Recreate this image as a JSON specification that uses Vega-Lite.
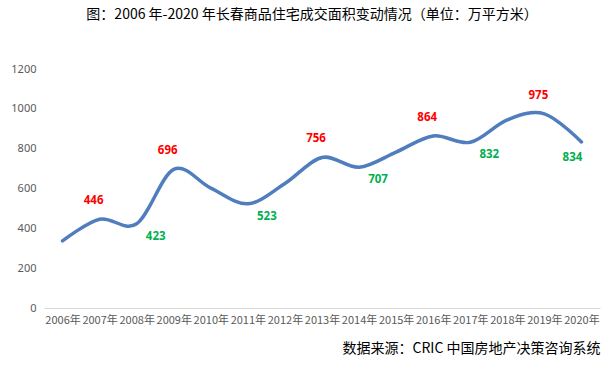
{
  "$schema": "https://vega.github.io/schema/vega-lite/v6.json",
  "width": 556,
  "height": 239,
  "autosize": {"type": "none"},
  "padding": {"left": 44, "top": 69, "right": 12, "bottom": 58},
  "background": "white",
  "config": {"view": {"stroke": null}, "font": "Noto Sans CJK SC"},
  "title": {
    "text": "图：2006 年-2020 年长春商品住宅成交面积变动情况（单位：万平方米）",
    "anchor": "middle",
    "frame": "group",
    "dx": -10,
    "offset": 41,
    "fontSize": 14,
    "fontWeight": "normal",
    "color": "#000000",
    "font": "Noto Sans CJK SC"
  },
  "data": {
    "values": [
      {"year": "2006年", "value": 337, "type": "none"},
      {"year": "2007年", "value": 446, "type": "peak"},
      {"year": "2008年", "value": 423, "type": "trough"},
      {"year": "2009年", "value": 696, "type": "peak"},
      {"year": "2010年", "value": 602, "type": "none"},
      {"year": "2011年", "value": 523, "type": "trough"},
      {"year": "2012年", "value": 625, "type": "none"},
      {"year": "2013年", "value": 756, "type": "peak"},
      {"year": "2014年", "value": 707, "type": "trough"},
      {"year": "2015年", "value": 783, "type": "none"},
      {"year": "2016年", "value": 864, "type": "peak"},
      {"year": "2017年", "value": 832, "type": "trough"},
      {"year": "2018年", "value": 945, "type": "none"},
      {"year": "2019年", "value": 975, "type": "peak"},
      {"year": "2020年", "value": 834, "type": "end"}
    ]
  },
  "encoding": {
    "x": {
      "field": "year",
      "type": "ordinal",
      "sort": null,
      "axis": {
        "labelAngle": 0,
        "labelColor": "#595959",
        "labelFontSize": 11,
        "labelPadding": 6,
        "labelFont": "Noto Sans CJK SC",
        "ticks": false,
        "domainColor": "#d9d9d9",
        "domainWidth": 1,
        "title": "数据来源：CRIC 中国房地产决策咨询系统",
        "titleAnchor": "end",
        "titleAlign": "right",
        "titleFontSize": 14,
        "titleFontWeight": "normal",
        "titleColor": "#000000",
        "titlePadding": 16,
        "titleFont": "Noto Sans CJK SC"
      }
    },
    "y": {
      "field": "value",
      "type": "quantitative",
      "scale": {"domain": [0, 1200]},
      "axis": {
        "values": [0, 200, 400, 600, 800, 1000, 1200],
        "format": "d",
        "domain": false,
        "ticks": false,
        "grid": false,
        "labelColor": "#595959",
        "labelFontSize": 11,
        "labelPadding": 8,
        "labelFont": "Noto Sans",
        "title": null
      }
    }
  },
  "layer": [
    {
      "mark": {"type": "line", "interpolate": "cardinal", "color": "#4f7dbd", "strokeWidth": 3.5, "strokeCap": "round"}
    },
    {
      "transform": [{"filter": "datum.type === 'peak'"}],
      "mark": {"type": "text", "color": "#ff0000", "fontWeight": "bold", "fontSize": 11.5, "font": "Noto Sans", "dx": -6, "dy": -18},
      "encoding": {"text": {"field": "value", "type": "quantitative"}}
    },
    {
      "transform": [{"filter": "datum.type === 'trough'"}],
      "mark": {"type": "text", "color": "#00b050", "fontWeight": "bold", "fontSize": 11.5, "font": "Noto Sans", "dx": 19, "dy": 13},
      "encoding": {"text": {"field": "value", "type": "quantitative"}}
    },
    {
      "transform": [{"filter": "datum.type === 'end'"}],
      "mark": {"type": "text", "color": "#00b050", "fontWeight": "bold", "fontSize": 11.5, "font": "Noto Sans", "dx": -9, "dy": 16},
      "encoding": {"text": {"field": "value", "type": "quantitative"}}
    }
  ]
}
